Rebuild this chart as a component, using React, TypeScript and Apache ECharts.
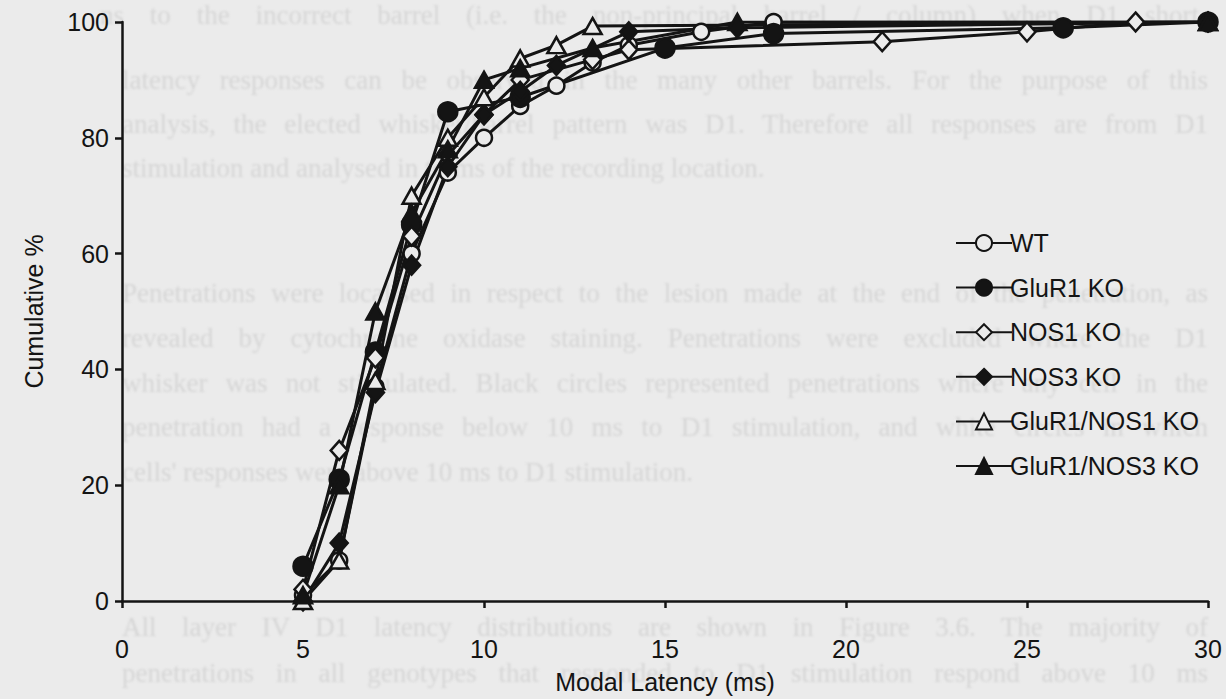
import React, { useEffect, useRef } from "react";
import * as echarts from "echarts";

// Cumulative % of responses by modal latency (ms), one list per genotype
const seriesNames = ["WT", "GluR1 KO", "NOS1 KO", "NOS3 KO", "GluR1/NOS1 KO", "GluR1/NOS3 KO"];

const wt: [number, number][] = [
  [5, 1], [6, 7], [7, 37], [8, 60], [9, 74], [10, 80], [11, 85.5], [12, 89], [13, 93], [14, 96], [16, 98.3], [18, 100], [30, 100],
];
const glur1: [number, number][] = [
  [5, 6], [6, 21], [7, 43], [8, 65], [9, 84.5], [11, 87], [15, 95.5], [18, 98], [26, 99], [30, 100],
];
const nos1: [number, number][] = [
  [5, 2], [6, 26], [7, 42], [8, 63], [9, 77], [10, 84], [11, 90], [13, 93.5], [14, 95.2], [21, 96.6], [25, 98.3], [28, 100], [30, 100],
];
const nos3: [number, number][] = [
  [5, 0], [6, 10], [7, 36], [8, 58], [9, 75], [10, 84], [11, 88], [12, 92.5], [14, 98.3], [17, 99], [30, 100],
];
const glur1nos1: [number, number][] = [
  [5, 0], [6, 7], [7, 38], [8, 70], [9, 80], [10, 87], [11, 93.7], [12, 96], [13, 99.3], [30, 100],
];
const glur1nos3: [number, number][] = [
  [5, 1], [6, 20], [7, 50], [8, 67], [9, 78], [10, 90], [11, 92], [13, 95.5], [17, 100], [30, 100],
];

const xTicks = [0, 5, 10, 15, 20, 25, 30];
const yTicks = [0, 20, 40, 60, 80, 100];

// Faint page text showing through behind the figure
const pageLines: { text: string; y: number; full: boolean; left?: number }[] = [
  { text: "ns to the incorrect barrel (i.e. the non-principal barrel / column) when D1 short-", y: 15, full: true, left: 100 },
  { text: "latency responses can be observed in the many other barrels. For the purpose of this", y: 80, full: true },
  { text: "analysis, the elected whisker/barrel pattern was D1. Therefore all responses are from D1", y: 124, full: true },
  { text: "stimulation and analysed in terms of the recording location.", y: 168, full: false },
  { text: "Penetrations were localised in respect to the lesion made at the end of the penetration, as", y: 293, full: true },
  { text: "revealed by cytochrome oxidase staining. Penetrations were excluded where the D1", y: 338, full: true },
  { text: "whisker was not stimulated. Black circles represented penetrations where any cell in the", y: 383, full: true },
  { text: "penetration had a response below 10 ms to D1 stimulation, and white circles in which", y: 427, full: true },
  { text: "cells' responses were above 10 ms to D1 stimulation.", y: 472, full: false },
  { text: "All layer IV D1 latency distributions are shown in Figure 3.6. The majority of", y: 627, full: true },
  { text: "penetrations in all genotypes that responded to D1 stimulation respond above 10 ms", y: 673, full: true },
];

const BG = "#ebebeb";
const INK = "#141414";
const FONT = "'Liberation Sans', Arial, sans-serif";

export default function App() {
  const ref = useRef<HTMLDivElement>(null);

  useEffect(() => {
    const chart = echarts.init(ref.current!, null, { renderer: "svg" });

    const mk = (
      name: string,
      data: [number, number][],
      symbol: string,
      size: number | number[],
      filled: boolean
    ) => ({
      name,
      type: "line",
      data,
      symbol,
      symbolSize: size,
      showAllSymbol: true,
      lineStyle: { color: INK, width: 3 },
      itemStyle: { color: filled ? INK : BG, borderColor: INK, borderWidth: 2.5 },
      emphasis: { disabled: true },
    });

    chart.setOption({
      animation: false,
      backgroundColor: "transparent",
      grid: { left: 122, right: 18, top: 22, bottom: 92, containLabel: false },
      legend: {
        orient: "vertical",
        left: 950,
        top: 224,
        itemWidth: 56,
        itemHeight: 20,
        itemGap: 16.6,
        textStyle: { color: INK, fontSize: 25, fontFamily: FONT, padding: [0, 0, 0, -7], lineHeight: 28 },
        data: seriesNames,
      },
      xAxis: {
        type: "value",
        min: 0,
        max: 30,
        interval: 5,
        name: "Modal Latency (ms)",
        nameLocation: "middle",
        nameGap: 68,
        nameTextStyle: { color: INK, fontSize: 25, fontFamily: FONT },
        axisLine: { lineStyle: { color: INK, width: 2.5 } },
        axisTick: { show: true, length: 7, lineStyle: { color: INK, width: 2.5 } },
        axisLabel: {
          color: INK,
          fontSize: 25,
          fontFamily: FONT,
          margin: 35,
          formatter: (v: number) => (xTicks.includes(v) ? String(v) : ""),
        },
        splitLine: { show: false },
      },
      yAxis: {
        type: "value",
        min: 0,
        max: 100,
        interval: 20,
        name: "Cumulative %",
        nameLocation: "middle",
        nameGap: 76,
        nameTextStyle: { color: INK, fontSize: 25, fontFamily: FONT },
        axisLine: { show: true, lineStyle: { color: INK, width: 2.5 } },
        axisTick: { show: true, length: 7, lineStyle: { color: INK, width: 2.5 } },
        axisLabel: {
          color: INK,
          fontSize: 25,
          fontFamily: FONT,
          margin: 13,
          formatter: (v: number) => (yTicks.includes(v) ? String(v) : ""),
        },
        splitLine: { show: false },
      },
      series: [
        mk(seriesNames[0], wt, "circle", 16, false),
        mk(seriesNames[1], glur1, "circle", 19, true),
        mk(seriesNames[2], nos1, "diamond", [17, 19], false),
        mk(seriesNames[3], nos3, "diamond", [17, 19], true),
        mk(seriesNames[4], glur1nos1, "triangle", [18, 16], false),
        mk(seriesNames[5], glur1nos3, "triangle", [18, 16], true),
      ],
    });

    return () => chart.dispose();
  }, []);

  return (
    <div
      style={{
        position: "fixed",
        left: 0,
        top: 0,
        width: 1226,
        height: 699,
        background: BG,
        overflow: "hidden",
      }}
    >
      <div style={{ position: "absolute", inset: 0, filter: "blur(1.3px)" }}>
        {pageLines.map((l, i) => (
          <div
            key={i}
            style={{
              position: "absolute",
              left: l.left ?? 122,
              top: l.y - 17,
              width: 1208 - (l.left ?? 122),
              fontFamily: "'Liberation Serif', 'Times New Roman', serif",
              fontSize: 27,
              lineHeight: "34px",
              color: "#d6d6d6",
              whiteSpace: "nowrap",
              textAlign: l.full ? "justify" : "left",
              textAlignLast: l.full ? "justify" : "left",
            }}
          >
            {l.text}
          </div>
        ))}
      </div>
      <div ref={ref} style={{ position: "absolute", left: 0, top: 0, width: 1226, height: 699 }} />
    </div>
  );
}
